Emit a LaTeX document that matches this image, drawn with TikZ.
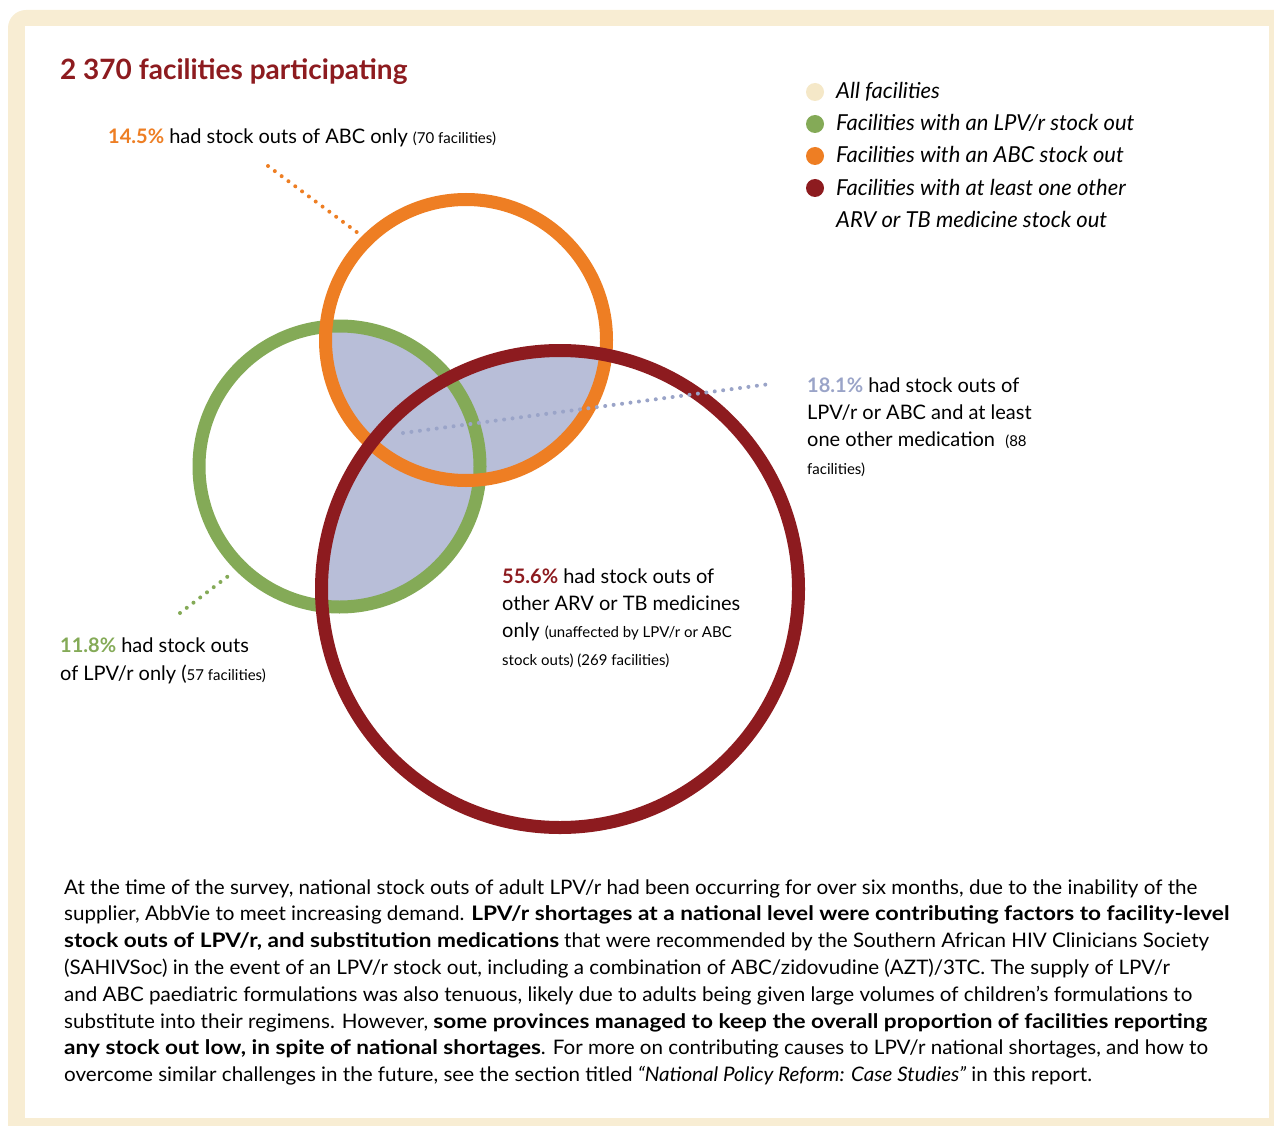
\documentclass[tikz,border=0pt]{standalone}
\usepackage{fontspec}
\setmainfont{Lato}
\newfontfamily\parafont{Lato}[FakeStretch=1.03,BoldFeatures={FakeStretch=1.13}]
\definecolor{cream}{HTML}{F8EDD3}
\definecolor{creamdot}{HTML}{F5E8C8}
\definecolor{lpvgreen}{HTML}{84AA57}
\definecolor{abcorange}{HTML}{EE7E23}
\definecolor{othred}{HTML}{8D1B1F}
\definecolor{overlap}{HTML}{B8BED8}
\definecolor{bothblue}{HTML}{9AA4C8}
\newcommand{\sm}[1]{{\fontsize{15}{16}\selectfont #1}}
\begin{document}
\begin{tikzpicture}[x=1pt,y=-1pt,
	ring/.style={circle,draw=#1,line width=13pt,inner sep=0pt,minimum size=281pt},
	dotline/.style={draw=#1,line width=4pt,line cap=round,dash pattern=on 0pt off 8.5pt},
	lbl/.style={anchor=base west,inner sep=0pt,align=left,font=\fontsize{20}{27.3}\selectfont},
	key/.style={circle,fill=#1,minimum size=18pt,inner sep=0pt},
	keytxt/.style={anchor=base west,inner sep=0pt,font=\fontsize{22}{32}\selectfont\itshape}]
	\useasboundingbox (0,0) rectangle (1274,1126);
	\clip (0,0) rectangle (1274,1126);
	\fill[cream,rounded corners=18pt] (8,10) rectangle (1300,1150);
	\fill[white] (25,26) rectangle (1269,1118);

	\node[anchor=base west,inner sep=0pt,text=othred,font=\fontsize{28}{32}\selectfont\bfseries] (title) at (60,80) {2 370 facilities participating};

	\coordinate (abcc) at (466,340);
	\coordinate (lpvc) at (339.5,466.5);
	\coordinate (othc) at (560,589);
	\begin{scope}
		\clip (abcc) circle[radius=140];
		\fill[overlap] (lpvc) circle[radius=140];
		\fill[overlap] (othc) circle[radius=238];
	\end{scope}
	\begin{scope}
		\clip (lpvc) circle[radius=140];
		\fill[overlap] (othc) circle[radius=238];
	\end{scope}
	\node[ring=lpvgreen] (lpv) at (lpvc) {};
	\node[ring=abcorange] (abc) at (abcc) {};
	\node[ring=othred,minimum size=477pt] (oth) at (othc) {};

	\node[key=creamdot] (k1) at (815,92) {};
	\node[key=lpvgreen] (k2) at (815,124) {};
	\node[key=abcorange] (k3) at (815,156) {};
	\node[key=othred] (k4) at (815,188) {};
	\node[keytxt] (t1) at (836,99) {All facilities};
	\node[keytxt] (t2) at (836,131) {Facilities with an LPV/r stock out};
	\node[keytxt] (t3) at (836,163) {Facilities with an ABC stock out};
	\node[keytxt,align=left] (t4) at (836,227) {Facilities with at least one other\\ARV or TB medicine stock out};

	\node[lbl] (abconly) at (108,144) {\textcolor{abcorange}{\textbf{14.5\%}} had stock outs of ABC only \sm{(70 facilities)}};
	\node[lbl] (both) at (807,474) {\textcolor{bothblue}{\textbf{18.1\%}} had stock outs of\\LPV/r or ABC and at least\\one other medication \ \sm{(88}\\\sm{facilities)}};
	\node[lbl] (othonly) at (502,665) {\textcolor{othred}{\textbf{55.6\%}} had stock outs of\\other ARV or TB medicines\\only \sm{(unaffected by LPV/r or ABC}\\\sm{stock outs) (269 facilities)}};
	\node[lbl] (lpvonly) at (60,680) {\textcolor{lpvgreen}{\textbf{11.8\%}} had stock outs\\of LPV/r only (\sm{57 facilities)}};

	\coordinate (abcend) at (268,166);
	\coordinate (lpvend) at (180,613);
	\coordinate (bothin) at (403,433);
	\coordinate (bothend) at (770,384);
	\draw[dotline=abcorange,shorten >=2pt] (abcend) -- (abc.135);
	\draw[dotline=lpvgreen,shorten >=6pt] (lpvend) -- (lpv.225);
	\draw[dotline=bothblue] (bothin) -- (bothend);

	\node[lbl,font=\parafont\fontsize{20}{26.8}\selectfont] (note) at (64,1081.6) {At the time of the survey, national stock outs of adult LPV/r had been occurring for over six months, due to the inability of the\\
	supplier, AbbVie to meet increasing demand. \textbf{LPV/r shortages at a national level were contributing factors to facility-level}\\
	\textbf{stock outs of LPV/r, and substitution medications} that were recommended by the Southern African HIV Clinicians Society\\
	(SAHIVSoc) in the event of an LPV/r stock out, including a combination of ABC/zidovudine (AZT)/3TC. The supply of LPV/r\\
	and ABC paediatric formulations was also tenuous, likely due to adults being given large volumes of children’s formulations to\\
	substitute into their regimens. However, \textbf{some provinces managed to keep the overall proportion of facilities reporting}\\
	\textbf{any stock out low, in spite of national shortages}. For more on contributing causes to LPV/r national shortages, and how to\\
	overcome similar challenges in the future, see the section titled \textit{“National Policy Reform: Case Studies”} in this report.};
\end{tikzpicture}
\end{document}
